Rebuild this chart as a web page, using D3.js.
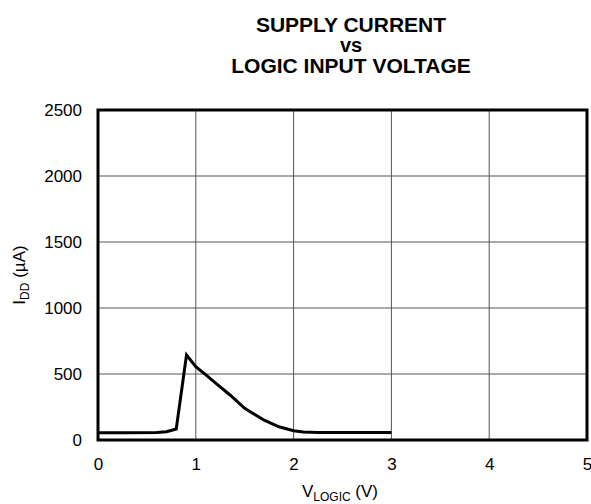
<!DOCTYPE html>
<html>
<head>
<meta charset="utf-8">
<script src="https://cdn.jsdelivr.net/npm/d3@7"></script>
<style>
	body { margin: 0; background: #fff; }
	svg { display: block; font-family: 'Liberation Sans', Arial, sans-serif; }
</style>
</head>
<body>
<div id="app"></div>
<script>
const vLogic = [0, 0.3, 0.6, 0.7, 0.8, 0.905, 1.0, 1.1, 1.2, 1.35, 1.5, 1.7, 1.85, 2.0, 2.1, 2.25, 2.5, 3.0];
const iDD = [55, 55, 56, 62, 83, 644, 555, 495, 433, 341, 240, 150, 100, 70, 60, 56, 56, 56];
const xTicks = [0, 1, 2, 3, 4, 5];
const yTicks = [0, 500, 1000, 1500, 2000, 2500];
const titleLines = ['SUPPLY CURRENT', 'vs', 'LOGIC INPUT VOLTAGE'];

const width = 591;
const height = 504;
const margin = { top: 110, right: 4, bottom: 64, left: 98 };

const svg = d3.select('#app').append('svg')
	.attr('width', width)
	.attr('height', height);

const x = d3.scaleLinear().domain([0, 5]).range([margin.left, width - margin.right]);
const y = d3.scaleLinear().domain([0, 2500]).range([height - margin.bottom, margin.top]);

// grid
svg.append('g')
	.selectAll('line')
	.data(xTicks)
	.join('line')
	.attr('x1', (d) => x(d))
	.attr('x2', (d) => x(d))
	.attr('y1', y(0))
	.attr('y2', y(2500))
	.attr('stroke', '#555')
	.attr('stroke-width', 1);

svg.append('g')
	.selectAll('line')
	.data(yTicks)
	.join('line')
	.attr('x1', x(0))
	.attr('x2', x(5))
	.attr('y1', (d) => y(d))
	.attr('y2', (d) => y(d))
	.attr('stroke', '#555')
	.attr('stroke-width', 1);

// axes labels through d3 axes, no tick marks
const xAxis = svg.append('g')
	.attr('transform', `translate(0, ${y(0)})`)
	.call(d3.axisBottom(x).tickValues(xTicks).tickSize(0).tickPadding(18).tickFormat(d3.format('d')));
const yAxis = svg.append('g')
	.attr('transform', `translate(${x(0)}, 0)`)
	.call(d3.axisLeft(y).tickValues(yTicks).tickSize(0).tickPadding(16).tickFormat(d3.format('d')));
[xAxis, yAxis].forEach((a) => {
	a.select('.domain').remove();
	a.selectAll('text')
		.attr('font-size', 17)
		.attr('font-family', "'Liberation Sans', Arial, sans-serif")
		.attr('fill', '#000');
});

// frame
svg.append('rect')
	.attr('x', x(0))
	.attr('y', y(2500))
	.attr('width', x(5) - x(0))
	.attr('height', y(0) - y(2500))
	.attr('fill', 'none')
	.attr('stroke', '#000')
	.attr('stroke-width', 3);

// curve
const line = d3.line()
	.x((d, i) => x(vLogic[i]))
	.y((d) => y(d));

svg.append('path')
	.datum(iDD)
	.attr('d', line)
	.attr('fill', 'none')
	.attr('stroke', '#000')
	.attr('stroke-width', 3)
	.attr('stroke-linejoin', 'miter');

// title
svg.append('g')
	.selectAll('text')
	.data(titleLines)
	.join('text')
	.attr('x', 351)
	.attr('y', (d, i) => [31.5, 52, 72.5][i])
	.attr('text-anchor', 'middle')
	.attr('font-weight', 'bold')
	.attr('font-size', (d, i) => i === 1 ? 20 : 21)
	.text((d) => d);

// x label
const xl = svg.append('text')
	.attr('x', 340)
	.attr('y', 497)
	.attr('text-anchor', 'middle')
	.attr('font-size', 17);
xl.append('tspan').text('V');
xl.append('tspan').attr('font-size', 12).attr('dy', 3.5).text('LOGIC');
xl.append('tspan').attr('dy', -3.5).text(' (V)');

// y label
const yl = svg.append('text')
	.attr('transform', `translate(25, ${y(1250)}) rotate(-90)`)
	.attr('text-anchor', 'middle')
	.attr('font-size', 17);
yl.append('tspan').text('I');
yl.append('tspan').attr('font-size', 12).attr('dy', 3.5).text('DD');
yl.append('tspan').attr('dy', -3.5).text(' (µA)');
</script>
</body>
</html>
